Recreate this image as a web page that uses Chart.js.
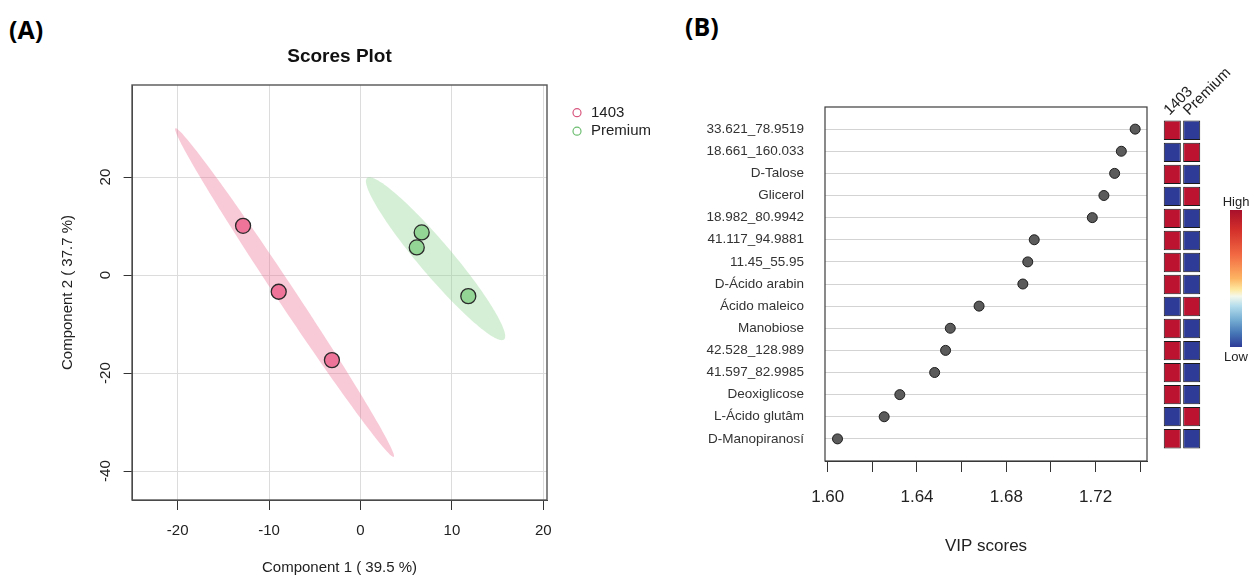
<!DOCTYPE html>
<html>
<head>
<meta charset="utf-8">
<title>Scores Plot / VIP scores</title>
<script src="https://cdn.jsdelivr.net/npm/chart.js@4.4.1/dist/chart.umd.min.js"></script>
<style>
  html, body { margin: 0; padding: 0; background: #fff; }
  #page { position: relative; width: 1252px; height: 577px; overflow: hidden; background: #fff; }
  #page canvas { position: absolute; top: 0; }
  .panel-tag { position: absolute; font: bold 25px "Open Sans", sans-serif; color: #000; line-height: 34px; }
</style>
</head>
<body>
<div id="page">
  <div class="panel-tag" style="left:9px; top:12px">(A)</div>
  <div class="panel-tag" style="left:685px; top:9px">(B)</div>
  <canvas id="scores" width="680" height="577" style="left:0"></canvas>
  <canvas id="vip" width="480" height="577" style="left:680px"></canvas>
  <canvas id="heat" width="152" height="577" style="left:1100px"></canvas>
</div>

<script>
/* ======================================================================
   DATA
====================================================================== */

// (A) PLS-DA scores
const groupNames = ["1403", "Premium"];
const comp1_1403 = [-12.85, -8.95, -3.13];
const comp2_1403 = [10.06, -3.40, -17.35];
const comp1_premium = [6.69, 6.15, 11.79];
const comp2_premium = [8.71, 5.65, -4.29];
const scoreXTicks = [-20, -10, 0, 10, 20];
const scoreYTicks = [20, 0, -20, -40];

// (B) VIP scores, top to bottom
const featureNames = [
    "33.621_78.9519", "18.661_160.033", "D-Talose", "Glicerol", "18.982_80.9942",
    "41.117_94.9881", "11.45_55.95", "D-Ácido arabin", "Ácido maleico", "Manobiose",
    "42.528_128.989", "41.597_82.9985", "Deoxiglicose", "L-Ácido glutâm", "D-Manopiranosí"
];
const vipScores = [
    1.7377, 1.7315, 1.7285, 1.7237, 1.7185,
    1.6925, 1.6896, 1.6874, 1.6678, 1.6549,
    1.6528, 1.6479, 1.6323, 1.6253, 1.6044
];
const vipTicks = [1.60, 1.62, 1.64, 1.66, 1.68, 1.70, 1.72, 1.74];
const vipTickLabels = ["1.60", "", "1.64", "", "1.68", "", "1.72", ""];

// relative concentration per group (1 = high, 0 = low)
const heat1403    = [1, 0, 1, 0, 1, 1, 1, 1, 0, 1, 1, 1, 1, 0, 1];
const heatPremium = [0, 1, 0, 1, 0, 0, 0, 0, 1, 0, 0, 0, 0, 1, 0];

/* ======================================================================
   STYLE
====================================================================== */
const FONT = "'Liberation Sans', Arial, sans-serif";
Chart.defaults.font.family = FONT;
Chart.defaults.color = "#222";

const ELLIPSE_T = Math.sqrt(5.991);   // sqrt(qchisq(0.95, 2))
const HEAT_HIGH = "#BC1330";
const HEAT_LOW = "#2E3B97";
const KEY_STOPS = [
    [0.00, "#A8102B"], [0.14, "#D22E2A"], [0.33, "#F26A43"], [0.50, "#FDB462"],
    [0.58, "#FEE8A0"], [0.63, "#F4F8EC"], [0.70, "#B4DDEC"], [0.80, "#76AED3"],
    [0.90, "#4676B6"], [1.00, "#2E3B97"]
];

/* ======================================================================
   HELPERS / PLUGINS
====================================================================== */

// 95 % confidence ellipse (same construction as R's ellipse package)
function ellipsePoints(pts, t, n) {
    const k = pts.length;
    const mx = pts.reduce((s, p) => s + p.x, 0) / k;
    const my = pts.reduce((s, p) => s + p.y, 0) / k;
    let sxx = 0, syy = 0, sxy = 0;
    pts.forEach(p => {
        sxx += (p.x - mx) ** 2;
        syy += (p.y - my) ** 2;
        sxy += (p.x - mx) * (p.y - my);
    });
    sxx /= (k - 1); syy /= (k - 1); sxy /= (k - 1);
    const sx = Math.sqrt(sxx), sy = Math.sqrt(syy);
    const d = Math.acos(sxy / (sx * sy));
    const out = [];
    for (let i = 0; i < n; i++) {
        const a = 2 * Math.PI * i / n;
        out.push([t * sx * Math.cos(a + d / 2) + mx, t * sy * Math.cos(a - d / 2) + my]);
    }
    return out;
}

const confEllipses = {
    id: "confEllipses",
    beforeDatasetsDraw(chart) {
        const { ctx, chartArea, scales: { x, y } } = chart;
        ctx.save();
        ctx.beginPath();
        ctx.rect(chartArea.left, chartArea.top, chartArea.width, chartArea.height);
        ctx.clip();
        chart.data.datasets.forEach(ds => {
            ctx.beginPath();
            ellipsePoints(ds.data, ELLIPSE_T, 160).forEach(([vx, vy], i) => {
                const px = x.getPixelForValue(vx), py = y.getPixelForValue(vy);
                if (i === 0) ctx.moveTo(px, py); else ctx.lineTo(px, py);
            });
            ctx.closePath();
            ctx.fillStyle = ds.ellipseColor;
            ctx.fill();
        });
        ctx.restore();
    }
};

const frameBox = {
    id: "frameBox",
    afterDatasetsDraw(chart, args, opts) {
        const { ctx, chartArea: { left, top, right, bottom } } = chart;
        ctx.save();
        ctx.strokeStyle = opts.color || "#444";
        ctx.lineWidth = opts.width || 1;
        ctx.strokeRect(left, top, right - left, bottom - top);
        ctx.restore();
    }
};

const groupLegend = {
    id: "groupLegend",
    afterDraw(chart) {
        const { ctx, chartArea } = chart;
        ctx.save();
        chart.data.datasets.forEach((ds, i) => {
            const cx = chartArea.right + 30;
            const cy = chartArea.top + 27.7 + i * 18.5;
            ctx.beginPath();
            ctx.arc(cx, cy, 4, 0, 2 * Math.PI);
            ctx.strokeStyle = ds.legendColor;
            ctx.lineWidth = 1.2;
            ctx.stroke();
            ctx.fillStyle = "#222";
            ctx.font = "15px " + FONT;
            ctx.textBaseline = "middle";
            ctx.textAlign = "left";
            ctx.fillText(ds.label, cx + 14, cy);
        });
        ctx.restore();
    }
};

const colorKey = {
    id: "colorKey",
    afterDraw(chart) {
        const { ctx, chartArea } = chart;
        const left = chartArea.right + 28.6, top = 210, w = 12, h = 137;
        ctx.save();
        const g = ctx.createLinearGradient(0, top, 0, top + h);
        KEY_STOPS.forEach(([o, c]) => g.addColorStop(o, c));
        ctx.fillStyle = g;
        ctx.fillRect(left, top, w, h);
        ctx.fillStyle = "#222";
        ctx.font = "13px " + FONT;
        ctx.textAlign = "center";
        ctx.textBaseline = "middle";
        ctx.fillText("High", left + w / 2, top - 8);
        ctx.fillText("Low", left + w / 2, top + h + 10);
        ctx.restore();
    }
};

const toPoints = (xs, ys) => xs.map((x, i) => ({ x, y: ys[i] }));

/* ======================================================================
   (A) SCORES PLOT
====================================================================== */
new Chart(document.getElementById("scores"), {
    type: "scatter",
    data: {
        datasets: [
            {
                label: groupNames[0],
                data: toPoints(comp1_1403, comp2_1403),
                backgroundColor: "#EF7499",
                borderColor: "#2a2a2a",
                borderWidth: 1.3,
                pointRadius: 7.5,
                pointHoverRadius: 7.5,
                ellipseColor: "rgba(236,112,150,0.38)",
                legendColor: "#D9577F"
            },
            {
                label: groupNames[1],
                data: toPoints(comp1_premium, comp2_premium),
                backgroundColor: "#92D594",
                borderColor: "#2a2a2a",
                borderWidth: 1.3,
                pointRadius: 7.5,
                pointHoverRadius: 7.5,
                ellipseColor: "rgba(144,212,147,0.38)",
                legendColor: "#6DBE71"
            }
        ]
    },
    options: {
        responsive: false,
        animation: false,
        events: [],
        layout: { padding: { left: 59, right: 133, top: 45.2, bottom: 0 } },
        plugins: {
            legend: { display: false },
            tooltip: { enabled: false },
            title: {
                display: true,
                text: "Scores Plot",
                fullSize: false,
                color: "#111",
                font: { size: 19, weight: "bold" },
                padding: { top: 0, bottom: 17 }
            },
            frameBox: { color: "#555", width: 1.4 }
        },
        scales: {
            x: {
                type: "linear",
                min: -25,
                max: 20.4,
                afterBuildTicks: s => { s.ticks = scoreXTicks.map(v => ({ value: v })); },
                afterFit: s => { s.height = 77; },
                grid: { color: "#dcdcdc", tickLength: 10, tickColor: "#333" },
                border: { color: "#333" },
                ticks: {
                    padding: 12,
                    color: "#222",
                    font: { size: 15 },
                    autoSkip: false,
                    maxRotation: 0,
                    callback: (v, i) => String(scoreXTicks[i])
                },
                title: { display: true, text: "Component 1 ( 39.5 %)", color: "#222", font: { size: 15 }, padding: 0 }
            },
            y: {
                type: "linear",
                min: -45.9,
                max: 38.8,
                afterBuildTicks: s => { s.ticks = scoreYTicks.map(v => ({ value: v })); },
                afterFit: s => { s.width = 73; },
                grid: { color: "#dcdcdc", tickLength: 8.4, tickColor: "#333" },
                border: { color: "#333" },
                ticks: {
                    padding: 6.5,
                    color: "#222",
                    font: { size: 15 },
                    autoSkip: false,
                    minRotation: 90,
                    maxRotation: 90,
                    crossAlign: "center",
                    callback: v => String(v)
                },
                title: { display: true, text: "Component 2 ( 37.7 %)", color: "#222", font: { size: 15 }, padding: 0 }
            }
        }
    },
    plugins: [confEllipses, frameBox, groupLegend]
});

/* ======================================================================
   (B) VIP SCORES
====================================================================== */
new Chart(document.getElementById("vip"), {
    type: "scatter",
    data: {
        datasets: [{
            label: "VIP scores",
            data: vipScores.map((v, i) => ({ x: v, y: i + 1 })),
            backgroundColor: "#5b5b5b",
            borderColor: "#1e1e1e",
            borderWidth: 1,
            pointRadius: 5,
            pointHoverRadius: 5
        }]
    },
    options: {
        responsive: false,
        animation: false,
        events: [],
        layout: { padding: { left: 0, right: 13, top: 107, bottom: 20 } },
        plugins: {
            legend: { display: false },
            tooltip: { enabled: false },
            frameBox: { color: "#3c3c3c", width: 1.2 }
        },
        scales: {
            x: {
                type: "linear",
                min: 1.5988,
                max: 1.7430,
                afterBuildTicks: s => { s.ticks = vipTicks.map(v => ({ value: v })); },
                afterFit: s => { s.height = 96; },
                grid: { drawOnChartArea: false, tickLength: 11, tickColor: "#333", color: "#333" },
                border: { color: "#333" },
                ticks: {
                    padding: 15,
                    color: "#222",
                    font: { size: 17 },
                    autoSkip: false,
                    maxRotation: 0,
                    callback: (v, i) => vipTickLabels[i]
                },
                title: { display: true, text: "VIP scores", color: "#222", font: { size: 17 }, padding: 0 }
            },
            y: {
                type: "linear",
                reverse: true,
                min: 0,
                max: 16,
                afterBuildTicks: s => { s.ticks = featureNames.map((n, i) => ({ value: i + 1 })); },
                afterFit: s => { s.width = 145; },
                grid: { drawTicks: false, color: "#d3d3d3" },
                border: { display: false },
                ticks: {
                    padding: 21,
                    color: "#333",
                    font: { size: 13.5 },
                    autoSkip: false,
                    callback: (v, i) => featureNames[i]
                }
            }
        }
    },
    plugins: [frameBox]
});

/* ======================================================================
   (B) HEATMAP COLUMN + COLOUR KEY
====================================================================== */
const heatValues = [heat1403, heatPremium];
const CELL_HALF = 0.44;

new Chart(document.getElementById("heat"), {
    type: "bar",
    data: {
        labels: featureNames,
        datasets: groupNames.map((g, c) => ({
            label: g,
            data: featureNames.map(() => [c + 1 - CELL_HALF, c + 1 + CELL_HALF]),
            backgroundColor: heatValues[c].map(v => v >= 0.5 ? HEAT_HIGH : HEAT_LOW),
            borderColor: "#1a1a1a",
            borderWidth: 1,
            borderSkipped: false,
            grouped: false,
            categoryPercentage: 1,
            barPercentage: 0.88
        }))
    },
    options: {
        indexAxis: "y",
        responsive: false,
        animation: false,
        events: [],
        layout: { padding: { left: 62.6, right: 50.6, top: 49.3, bottom: 127.3 } },
        plugins: { legend: { display: false }, tooltip: { enabled: false } },
        scales: {
            y: { type: "category", display: false, offset: true },
            x: {
                type: "linear",
                position: "top",
                min: 0.5,
                max: 2.5,
                afterBuildTicks: s => { s.ticks = groupNames.map((g, i) => ({ value: i + 1 })); },
                afterFit: s => {
                    s.height = 70;
                    s.paddingLeft = 0;
                    s.paddingRight = 0;
                },
                grid: { display: false, drawTicks: false },
                border: { display: false },
                ticks: {
                    padding: 0,
                    labelOffset: 7,
                    color: "#222",
                    font: { size: 15 },
                    autoSkip: false,
                    minRotation: 45,
                    maxRotation: 45,
                    callback: (v, i) => groupNames[i]
                }
            }
        }
    },
    plugins: [colorKey]
});
</script>
</body>
</html>
